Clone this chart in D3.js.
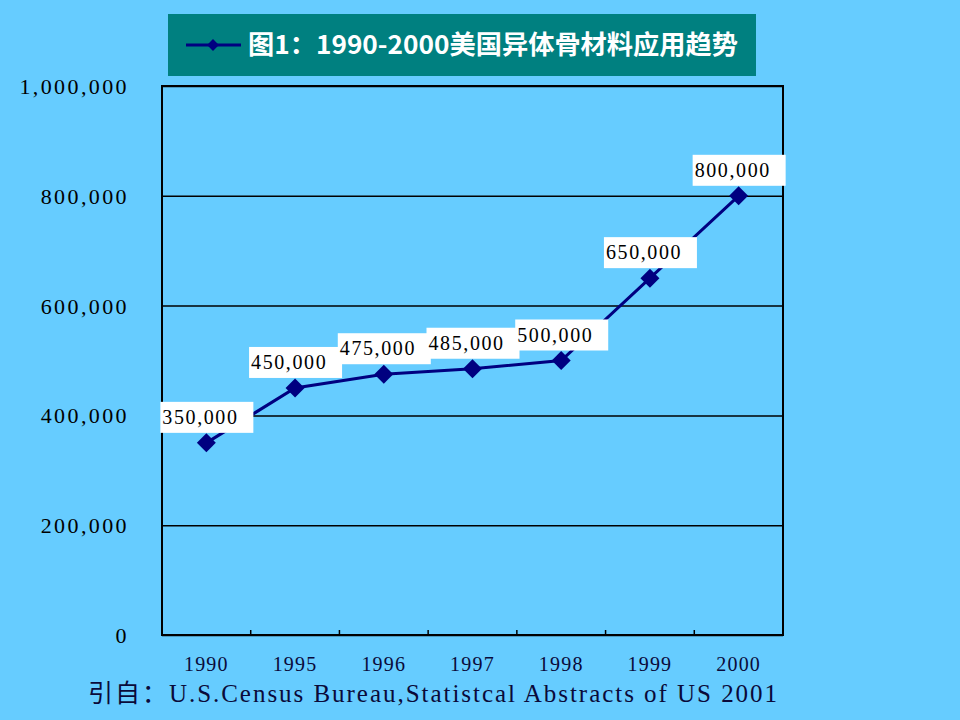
<!DOCTYPE html>
<html>
<head>
<meta charset="utf-8">
<script src="https://cdn.jsdelivr.net/npm/d3@7"></script>
<style>
  body { margin: 0; background: #66ccff; }
  svg { display: block; }
</style>
</head>
<body>
<div id="chart"></div>
<script>
// data
var years = ["1990", "1995", "1996", "1997", "1998", "1999", "2000"];
var usage = [350000, 450000, 475000, 485000, 500000, 650000, 800000];
var yTicks = [0, 200000, 400000, 600000, 800000, 1000000];
var titleText = "图1：1990-2000美国异体骨材料应用趋势";
var sourceText = "引自：U.S.Census Bureau,Statistcal Abstracts of US 2001";

var W = 960, H = 720;
var margin = {top: 86, right: 177, bottom: 85, left: 162},
    width = W - margin.left - margin.right,
    height = H - margin.top - margin.bottom;

var navy = "#000080";
var serif = "'Liberation Serif', 'DejaVu Serif', serif";

var svg = d3.select("#chart")
  .append("svg")
    .attr("width", W)
    .attr("height", H);

svg.append("rect")
  .attr("width", W).attr("height", H)
  .attr("fill", "#66ccff");

var g = svg.append("g")
  .attr("transform", "translate(" + margin.left + "," + margin.top + ")");

var x = d3.scaleBand()
  .domain(years)
  .range([0, width]);

var y = d3.scaleLinear()
  .domain([0, 1000000])
  .range([height, 0]);

var fmt = d3.format(",");
var cx = function(d) { return x(d) + x.bandwidth() / 2; };

// gridlines + y labels
var axisY = g.append("g")
  .call(d3.axisLeft(y)
    .tickValues(yTicks)
    .tickSize(-width)
    .tickPadding(33)
    .tickFormat(function(d) { return d === 0 ? "0" : fmt(d); }));
axisY.select(".domain").remove();
axisY.selectAll(".tick line")
  .attr("stroke", "#000")
  .attr("stroke-width", 1.5);
axisY.selectAll(".tick text")
  .attr("font-size", 22)
  .attr("font-family", serif)
  .attr("letter-spacing", "2.4px")
  .attr("fill", "#000")
  .attr("dy", "0.34em");

// x labels
var axisX = g.append("g")
  .attr("transform", "translate(0," + height + ")")
  .call(d3.axisBottom(x).tickSize(0).tickPadding(22));
axisX.select(".domain").remove();
axisX.selectAll(".tick text")
  .attr("font-size", 20)
  .attr("font-family", serif)
  .attr("letter-spacing", "1.2px")
  .attr("fill", "#0a0a3a");

// small inner ticks between categories
g.selectAll(".cat-tick")
  .data(years.slice(1))
  .enter()
  .append("line")
    .attr("x1", function(d) { return x(d); })
    .attr("x2", function(d) { return x(d); })
    .attr("y1", height)
    .attr("y2", height - 5)
    .attr("stroke", "#000")
    .attr("stroke-width", 1.5);

// plot frame
g.append("rect")
  .attr("width", width)
  .attr("height", height)
  .attr("fill", "none")
  .attr("stroke", "#000")
  .attr("stroke-width", 2);

// the line
var line = d3.line()
  .x(function(d, i) { return cx(years[i]); })
  .y(function(d) { return y(d); });

g.append("path")
  .datum(usage)
  .attr("d", line)
  .attr("fill", "none")
  .attr("stroke", navy)
  .attr("stroke-width", 3);

// data labels (white boxes)
var lab = g.selectAll(".lab")
  .data(usage)
  .enter()
  .append("g")
    .attr("transform", function(d, i) {
      return "translate(" + cx(years[i]) + "," + y(d) + ")";
    });
lab.append("rect")
  .attr("x", -46)
  .attr("y", -41)
  .attr("width", 93)
  .attr("height", 31)
  .attr("fill", "#fff");
lab.append("text")
  .attr("x", -44)
  .attr("y", -19)
  .attr("font-size", 20)
  .attr("font-family", serif)
  .attr("letter-spacing", "1.6px")
  .attr("fill", "#000")
  .text(function(d) { return fmt(d); });

// diamond markers
var diamond = d3.symbol().type(d3.symbolSquare).size(180);
g.selectAll(".pt")
  .data(usage)
  .enter()
  .append("path")
    .attr("d", diamond)
    .attr("fill", navy)
    .attr("transform", function(d, i) {
      return "translate(" + cx(years[i]) + "," + y(d) + ") rotate(45)";
    });

// title box with legend
svg.append("rect")
  .attr("x", 168).attr("y", 14)
  .attr("width", 588).attr("height", 62)
  .attr("fill", "#008080");
svg.append("line")
  .attr("x1", 186).attr("x2", 241)
  .attr("y1", 45).attr("y2", 45)
  .attr("stroke", navy)
  .attr("stroke-width", 3);
svg.append("path")
  .attr("d", d3.symbol().type(d3.symbolSquare).size(70))
  .attr("fill", navy)
  .attr("transform", "translate(213,45) rotate(45)");
svg.append("text")
  .attr("x", 248)
  .attr("y", 54)
  .attr("font-size", 26)
  .attr("font-weight", "bold")
  .attr("font-family", "'Noto Sans CJK SC', sans-serif")
  .attr("fill", "#fff")
  .attr("textLength", 490)
  .attr("lengthAdjust", "spacingAndGlyphs")
  .text(titleText);

// source note
svg.append("text")
  .attr("x", 88)
  .attr("y", 702)
  .attr("font-size", 25)
  .attr("font-family", serif + ", 'Noto Sans CJK SC'")
  .attr("fill", "#0a0a3a")
  .attr("textLength", 689)
  .attr("lengthAdjust", "spacing")
  .text(sourceText);
</script>
</body>
</html>
